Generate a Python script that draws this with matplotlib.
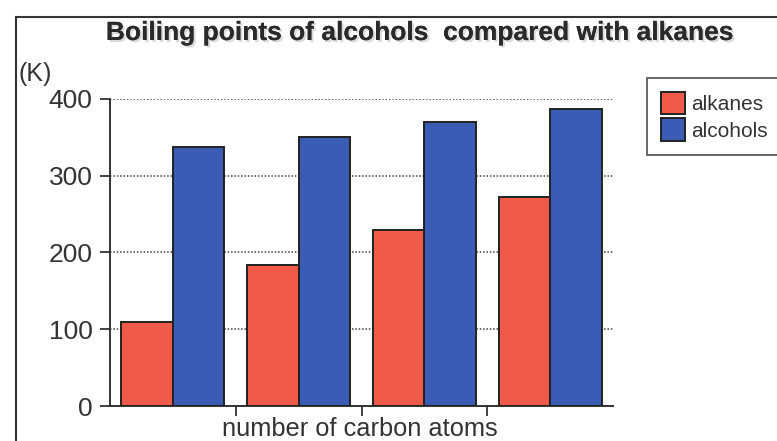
import matplotlib
matplotlib.use("Agg")
import matplotlib.pyplot as plt
import matplotlib.patheffects as pe
from matplotlib import font_manager
from matplotlib.patches import Rectangle
import numpy as np

# Boiling points (K), 1-4 carbon atoms
carbons = [1, 2, 3, 4]
alkanes = [109, 184, 229, 272]
alcohols = [337, 350, 370, 387]
series_names = ["alkanes", "alcohols"]
yticks = [0, 100, 200, 300, 400]

red = "#f05a48"
blue = "#3b5cb5"
ink = "#333333"

# pick a narrow face if one is installed
installed = {f.name for f in font_manager.fontManager.ttflist}
narrow = "Liberation Sans"
for name in ["Liberation Sans Narrow", "DejaVu Sans Condensed"]:
    if name in installed:
        narrow = name
        break

fig = plt.figure(figsize=(7.77, 4.41), dpi=100)
ax = fig.add_axes([110 / 777, 1 - 406 / 441, 503 / 777, 307 / 441])

x = np.arange(len(carbons))
w = 0.41
ax.bar(x - w / 2, alkanes, w, color=red, edgecolor="#222222", linewidth=1.4,
       label=series_names[0], zorder=3)
ax.bar(x + w / 2, alcohols, w, color=blue, edgecolor="#222222", linewidth=1.4,
       label=series_names[1], zorder=3)

ax.set_xlim(-0.5, len(carbons) - 0.5)
ax.set_ylim(0, 400)
ax.set_yticks(yticks)
ax.set_yticklabels([str(v) for v in yticks], fontsize=19, color=ink,
                   family="Liberation Sans")
ax.set_xticks(x[:-1] + 0.5)
ax.set_xticklabels([])
ax.tick_params(axis="y", direction="out", length=7, width=1.3, colors=ink, pad=5.5)
ax.tick_params(axis="x", direction="out", length=7, width=1.3, colors=ink)

ax.yaxis.grid(True, linestyle=(0, (1, 1.2)), color="#444444", linewidth=1.1, zorder=0)
for s in ["top", "right"]:
    ax.spines[s].set_visible(False)
for s in ["left", "bottom"]:
    ax.spines[s].set_linewidth(1.4)
    ax.spines[s].set_color(ink)

fig.text(360 / 777, 1 - 436 / 441, "number of carbon atoms", ha="center", va="baseline",
         fontsize=18.3, color=ink, family=narrow)

fig.text(420 / 777, 1 - 40 / 441, "Boiling points of alcohols  compared with alkanes",
         ha="center", va="baseline", fontsize=19, fontweight="bold", color="#2a2a2a",
         family=narrow,
         path_effects=[pe.withSimplePatchShadow(offset=(1.5, -1.5), alpha=0.15),
                       pe.Normal()])
fig.text(18 / 777, 1 - 74 / 441, "(K)", ha="left", va="center", fontsize=18,
         color=ink, family=narrow)

leg = ax.legend(loc="upper left", bbox_to_anchor=(647 / 777, 1 - 78 / 441),
                bbox_transform=fig.transFigure, frameon=True, fancybox=False,
                borderaxespad=0, handlelength=1.15, handleheight=1.3,
                handletextpad=0.33, borderpad=0.65, labelspacing=0.2,
                prop={"family": "Liberation Sans", "size": 15})
leg.get_frame().set_edgecolor("#333333")
leg.get_frame().set_linewidth(1.3)
for t in leg.get_texts():
    t.set_color(ink)

# outer frame around the chart
fig.patches.append(Rectangle((16 / 777, -0.1), 1.2, 1.1 - 17 / 441,
                             transform=fig.transFigure, fill=False,
                             edgecolor="#333333", linewidth=1.5))

fig.savefig("out.png", dpi=100)
